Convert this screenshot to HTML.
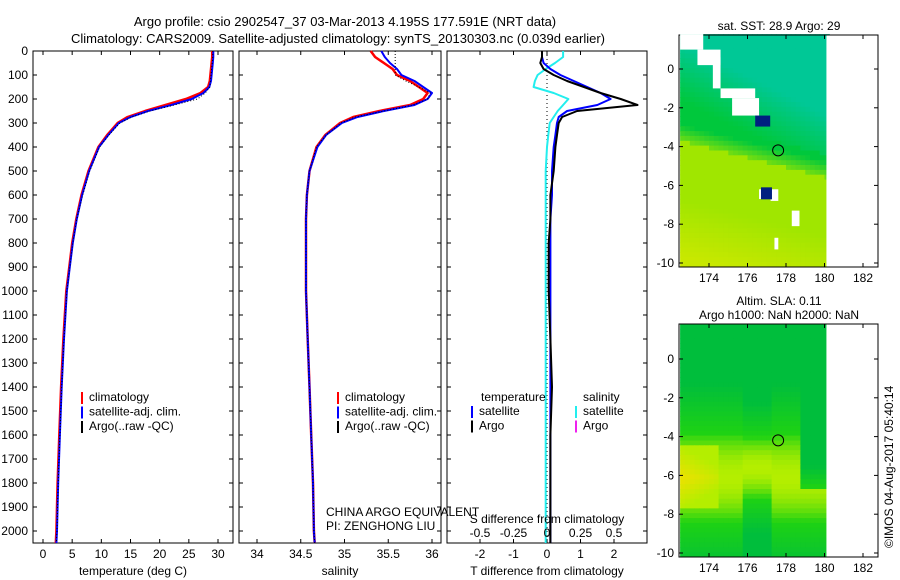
<!DOCTYPE html>
<html><head><meta charset="utf-8"><style>
body{margin:0;background:#fff}
svg{display:block;font-family:"Liberation Sans",sans-serif}
text{font-size:12px;fill:#000}
</style></head><body>
<svg id="c" width="900" height="580" viewBox="0 0 900 580">
<text x="345" y="26" text-anchor="middle" style="font-size:13px">Argo profile: csio 2902547_37 03-Mar-2013 4.195S 177.591E (NRT data)</text>
<text x="338" y="43" text-anchor="middle" style="font-size:13px">Climatology: CARS2009. Satellite-adjusted climatology: synTS_20130303.nc (0.039d earlier)</text>
<g id="maps"></g>
<g id="plots"></g>
</svg>
<script>
const depths=[0,25,50,75,100,125,150,175,200,225,250,275,300,350,400,500,600,700,800,900,1000,1200,1400,1600,1800,2000,2050];
const tempClim=[29,29,28.9,28.8,28.7,28.6,28.3,27,24.5,21,17.5,14.5,12.8,11,9.5,7.8,6.6,5.7,5,4.5,4,3.5,3.1,2.8,2.5,2.3,2.2];
const tempSat=[29.2,29.2,29.1,29,28.9,28.8,28.5,27.5,25.5,22,18,15,13,11.2,9.6,7.9,6.7,5.8,5.1,4.6,4.1,3.6,3.2,2.9,2.6,2.4,2.3];
const tempArgo=[29.1,29.1,29,28.9,28.8,28.7,28.6,27.8,26.5,22.5,18.3,15.2,13.2,11.3,9.7,8,6.8,5.8,5.1,4.6,4.1,3.6,3.2,2.9,2.6,2.4,2.3];
const salClim=[35.3,35.35,35.45,35.55,35.6,35.75,35.85,35.95,35.9,35.75,35.4,35.1,34.95,34.78,34.68,34.6,34.57,34.56,34.56,34.56,34.56,34.58,34.6,34.62,34.64,34.65,34.66];
const salSat=[35.42,35.46,35.52,35.6,35.65,35.8,35.9,36.0,35.95,35.8,35.45,35.15,34.97,34.79,34.69,34.6,34.57,34.56,34.56,34.56,34.56,34.58,34.6,34.62,34.64,34.65,34.66];
const salArgo=[35.58,35.58,35.58,35.58,35.58,35.7,35.85,35.98,35.95,35.78,35.45,35.12,34.96,34.79,34.68,34.6,34.57,34.56,34.56,34.56,34.56,34.58,34.6,34.62,34.64,34.65,34.66];
const dTArgo=[-0.15,-0.15,-0.2,-0.1,0.2,0.6,1.1,1.6,2.2,2.7,0.9,0.45,0.35,0.3,0.25,0.2,0.1,0.1,0.05,0.05,0.05,0.1,0.15,0.1,0.1,0.1,0.1];
const dTSat=[-0.15,-0.15,-0.1,0.1,0.4,0.8,1.2,1.6,1.9,1.5,0.6,0.35,0.3,0.25,0.2,0.15,0.15,0.1,0.1,0.1,0.1,0.1,0.1,0.1,0.1,0.1,0.1];
const dSSat=[0.12,0.12,0.06,-0.01,-0.07,-0.09,-0.1,0.05,0.16,0.12,0.08,0.05,0.02,0.01,0,-0.01,-0.01,-0.01,-0.01,-0.01,-0.01,-0.01,-0.01,-0.01,-0.01,-0.01,-0.01];
const depthTicks=[0,100,200,300,400,500,600,700,800,900,1000,1100,1200,1300,1400,1500,1600,1700,1800,1900,2000];
const tempTicks=[0,5,10,15,20,25,30];
const salTicks=[34,34.5,35,35.5,36];
const dTTicks=[-2,-1,0,1,2];
const dSTicks=[-0.5,-0.25,0,0.25,0.5];
const dSTickLabels=["-0.5","-0.25","0","0.25","0.5"];

const NS='http://www.w3.org/2000/svg';
const plots=document.getElementById('plots'),maps=document.getElementById('maps');
function mk(tag,attrs,parent,txt){const e=document.createElementNS(NS,tag);for(const k in attrs)e.setAttribute(k,attrs[k]);if(txt!==undefined)e.textContent=txt;(parent||plots).appendChild(e);return e;}
const Y0=51,YPX=0.24,BOT=543;
const yD=d=>Y0+d*YPX;
function lin(d0,p0,d1,p1){return v=>p0+(v-d0)*(p1-p0)/(d1-d0);}
function panel(x0,x1,name){
  const r=mk('rect',{x:x0,y:Y0,width:x1-x0,height:BOT-Y0,fill:'#fff',stroke:'#000','stroke-width':1});
  
  
  depthTicks.forEach(d=>{
    mk('line',{x1:x0,x2:x0+4,y1:yD(d),y2:yD(d),stroke:'#000'});
    mk('line',{x1:x1,x2:x1-4,y1:yD(d),y2:yD(d),stroke:'#000'});
  });
}
function xticks(x0,x1,ticks,sx,labels,ly,name){
  ticks.forEach((t,i)=>{
    const x=sx(t);
    mk('line',{x1:x,x2:x,y1:BOT,y2:BOT-4,stroke:'#000'});
    mk('line',{x1:x,x2:x,y1:Y0,y2:Y0+4,stroke:'#000'});
    const tx=mk('text',{x:x,y:ly,'text-anchor':'middle'},plots,labels?labels[i]:String(t));
    
    
  });
}
function line(vals,sx,color,name,w,dash){
  const pts=vals.map((v,i)=>sx(v).toFixed(1)+','+yD(depths[i]).toFixed(1)).join(' ');
  const p=mk('polyline',{points:pts,fill:'none',stroke:color,'stroke-width':w||2,'stroke-linejoin':'round'});
  if(dash)p.setAttribute('stroke-dasharray',dash);
  
  
}
function legend(x,y,items){
  items.forEach((it,i)=>{
    const yy=y+i*14.5;
    mk('line',{x1:x,x2:x,y1:yy-9,y2:yy+3,stroke:it[1],'stroke-width':2});
    const t=mk('text',{x:x+7,y:yy},plots,it[0]);
    
    
  });
}
depthTicks.forEach(d=>{const t=mk('text',{x:28,y:yD(d)+4,'text-anchor':'end'},plots,String(d));
  
  });

// Panel 1 temperature
const sT=lin(0,43,30,218);
panel(33,233,'temperature-panel');
xticks(33,233,tempTicks,sT,null,558,'temp-tick-label');
mk('text',{x:133,y:575,'text-anchor':'middle',},plots,'temperature (deg C)');
line(tempClim,sT,'#f00','temp-climatology-line',2.5);
line(tempSat,sT,'#00f','temp-satellite-line',2);
line(tempArgo,sT,'#000','temp-argo-line',1,'1,2');
legend(82,401,[['climatology','#f00'],['satellite-adj. clim.','#00f'],['Argo(..raw -QC)','#000']]);

// Panel 2 salinity
const sS=lin(34,257,36,432);
panel(239,441,'salinity-panel');
xticks(239,441,salTicks,sS,null,558,'sal-tick-label');
mk('text',{x:340,y:575,'text-anchor':'middle',},plots,'salinity');
line(salClim,sS,'#f00','sal-climatology-line',2.5);
line(salSat,sS,'#00f','sal-satellite-line',2);
line(salArgo,sS,'#000','sal-argo-line',1,'1,2');
legend(338,401,[['climatology','#f00'],['satellite-adj. clim.','#00f'],['Argo(..raw -QC)','#000']]);

// Panel 3 differences
const sDT=lin(0,547,2,614);
const sDS=lin(0,547,0.5,614);
panel(447,647,'difference-panel');
mk('line',{x1:547,x2:547,y1:Y0,y2:BOT,stroke:'#000','stroke-dasharray':'1,3'});
xticks(447,647,dTTicks,sDT,null,558,'dT-tick-label');
mk('text',{x:547,y:575,'text-anchor':'middle',},plots,'T difference from climatology');
line(dSSat,sDS,'#2ee','dS-satellite-line',2);
line(dTSat,sDT,'#00f','dT-satellite-line',2);
line(dTArgo,sDT,'#000','dT-argo-line',2);
dSTicks.forEach((t,i)=>{const tx=mk('text',{x:sDS(t),y:537,'text-anchor':'middle'},plots,dSTickLabels[i]);
  
  });
mk('text',{x:547,y:523,'text-anchor':'middle',},plots,'S difference from climatology');
mk('text',{x:481,y:401,},plots,'temperature');
mk('text',{x:583,y:401,},plots,'salinity');
legend(472,415,[['satellite','#00f'],['Argo','#000']]);
legend(576,415,[['satellite','#2ee'],['Argo','#e2e']]);
mk('text',{x:326,y:516,},plots,'CHINA ARGO EQUIVALENT');
mk('text',{x:326,y:530,},plots,'PI: ZENGHONG LIU');

// Maps
function mapBox(top,bot,y0lat,name,title1,title2,colorFn){
  const x0=679,x1=878,lx=lon=>709+(lon-174)*19.25,ly=lat=>y0lat-lat*19.4;
  const g=mk('g',{},maps);
  
  
  for(let i=0;i<49;i++){const lat=1.8-i*0.25;
    for(let j=0;j<31;j++){const lon=172.5+j*0.25;
      mk('rect',{x:lx(lon).toFixed(1),y:ly(lat).toFixed(1),width:5.3,height:5.3,fill:colorFn(lon,lat)},g);
    }
  }
  mk('rect',{x:lx(180.1),y:top,width:x1-lx(180.1),height:bot-top,fill:'#fff'},g);
  mk('rect',{x:x0-10,y:bot,width:220,height:30,fill:'#fff'},g);
  mk('rect',{x:x0,y:top,width:x1-x0,height:bot-top,fill:'none',stroke:'#000'},g);
  [0,-2,-4,-6,-8,-10].forEach(l=>{const y=ly(l);
    mk('line',{x1:x0,x2:x0+4,y1:y,y2:y,stroke:'#000'},g);mk('line',{x1:x1,x2:x1-4,y1:y,y2:y,stroke:'#000'},g);
    mk('text',{x:x0-5,y:y+4,'text-anchor':'end'},g,String(l));});
  [174,176,178,180,182].forEach(l=>{const x=lx(l);
    mk('line',{x1:x,x2:x,y1:bot,y2:bot-4,stroke:'#000'},g);mk('line',{x1:x,x2:x,y1:top,y2:top+4,stroke:'#000'},g);
    mk('text',{x:x,y:bot+15,'text-anchor':'middle'},g,String(l));});
  mk('circle',{cx:lx(177.591),cy:ly(-4.195),r:5.5,fill:'none',stroke:'#000'},g);
  mk('text',{x:779,y:top-(title2?19:5),'text-anchor':'middle'},g,title1);
  if(title2)mk('text',{x:779,y:top-5,'text-anchor':'middle'},g,title2);
  return {lx,ly,g};
}
function mix(a,b,t){t=Math.max(0,Math.min(1,t));return 'rgb('+a.map((v,i)=>Math.round(v+(b[i]-v)*t)).join(',')+')';}
const m1=mapBox(35,267,69,'sst-map','sat. SST: 28.9 Argo: 29','',(lon,lat)=>{
  const teal=[0,200,150],grn=[0,200,60],yel=[160,230,0],ylw=[200,232,0];
  const b=-3.6-(lon-172.5)*0.25;
  if(lat>b+1.2)return mix(grn,teal,(lat-b-1.2)/3+(lon-176)*0.08);
  if(lat>b)return mix(yel,grn,(lat-b)/1.2+0.3);
  return mix(yel,ylw,(b-lat-3)/3);
});
[[172.5,1.8,1.2,0.8],[173.4,1.0,1.2,0.8],[174.2,0.6,0.4,1.6],[174.6,-1,1.8,0.5],[175.2,-1.5,1.4,0.9],[176.6,-6.2,0.4,0.5],[177.2,-6.2,0.4,0.6],[178.3,-7.3,0.4,0.8],[177.4,-8.7,0.2,0.6]].forEach(r=>mk('rect',{x:m1.lx(r[0]),y:m1.ly(r[1]),width:r[2]*19.25,height:r[3]*19.4,fill:'#fff'},m1.g));
mk('rect',{x:m1.lx(176.4),y:m1.ly(-2.4),width:15,height:11,fill:'#002080'},m1.g);
mk('rect',{x:m1.lx(176.7),y:m1.ly(-6.1),width:11,height:12,fill:'#002080'},m1.g);
const m2=mapBox(324,557,359,'sla-map','Altim. SLA: 0.11','Argo h1000: NaN h2000: NaN',(lon,lat)=>{
  const dg=[0,190,60],gr=[30,210,20],yg=[180,238,0],ye=[235,225,0];
  let c=-6, hw=2.3;
  if(lon>175.6&&lon<177.2){hw=1.6;c=-5.5;}
  let d=Math.abs(lat-c)/hw;
  if(lon>178.5&&lat>-6.5) d=Math.max(d,1+(lat+6.5)/1);
  if(d>1){return mix(gr,dg,(d-1)*0.9);}
  let col=mix(yg,gr,d*d);
  if(lon<174.5&&d<0.7)col=mix(ye,yg,d/0.7+(lon-172.5)/3);
  return col;
});
const cr=mk('text',{x:0,y:0,transform:'translate(893,548) rotate(-90)',},maps,'©IMOS 04-Aug-2017 05:40:14');
</script>
</body></html>
